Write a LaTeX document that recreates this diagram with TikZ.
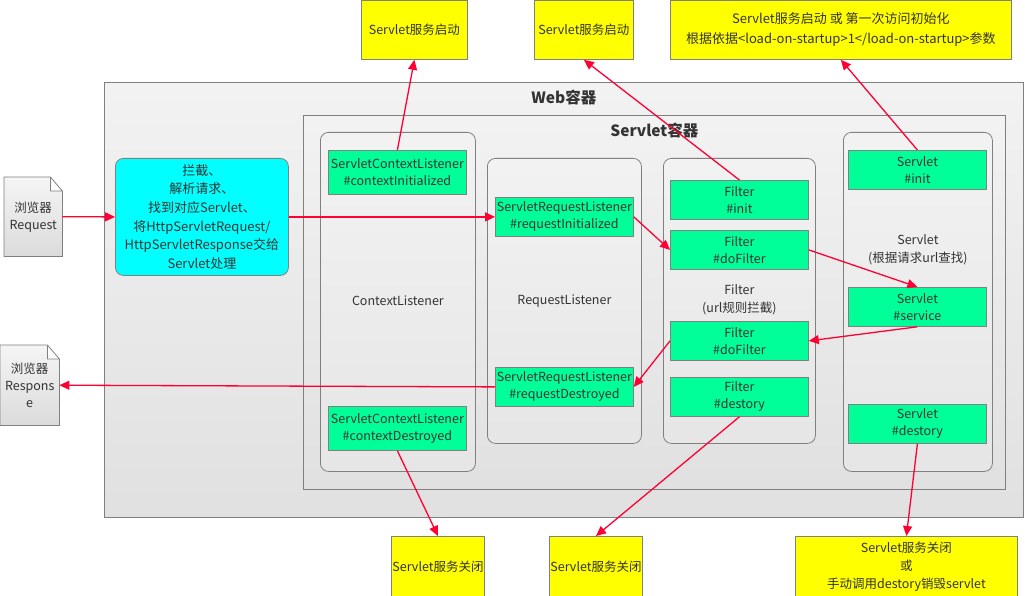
\documentclass[tikz,border=0pt]{standalone}
\usepackage{fontspec}
\setmainfont{Noto Sans CJK SC}
\usetikzlibrary{arrows.meta,positioning,backgrounds,calc}
\definecolor{SvGreen}{HTML}{00FF99}
\definecolor{SvYellow}{HTML}{FFFF00}
\definecolor{SvCyan}{HTML}{00FFFF}
\definecolor{SvRed}{HTML}{FF0033}
\definecolor{SvEdge}{HTML}{808080}
\definecolor{SvText}{HTML}{333333}

\begin{document}
\begin{tikzpicture}[x=1pt,y=-1pt,
    every node/.style={text=SvText,font=\fontsize{12.5}{17}\selectfont},
    panel/.style={draw=SvEdge,line width=0.8pt,top color=black!5,bottom color=black!12,anchor=north west},
    group/.style={panel,rounded corners=8pt,top color=black!5,bottom color=black!10},
    stage/.style={draw=SvEdge,fill=SvGreen,line width=0.8pt,minimum width=138pt,minimum height=39pt,
      inner sep=1pt,align=center,anchor=north west},
    note/.style={draw=SvEdge,fill=SvYellow,line width=0.8pt,inner sep=1pt,align=center,anchor=north west},
    doc/.style={minimum width=58pt,minimum height=80pt,inner sep=1pt,align=center,anchor=north west},
    flow/.style={draw=SvRed,line width=1.3pt,-{Triangle[length=10pt,width=9pt]}},
    title/.style={font=\fontsize{15.5}{17}\bfseries\selectfont}
  ]
  \useasboundingbox (0,0) rectangle (1025,596);

  % Containers
  \node[panel,minimum width=919pt,minimum height=435pt] (web) at (104,82) {};
  \node[title,below=4pt of web.north] {Web容器};
  \node[panel,minimum width=702pt,minimum height=374pt] (sc) at (303,115) {};
  \node[title,below=4pt of sc.north] {Servlet容器};

  % Groups
  \node[group,minimum width=155pt,minimum height=339pt] (gctx) at (320,132) {};
  \node at (gctx.center |- 0,301) {ContextListener};
  \node[group,minimum width=154pt,minimum height=285pt] (greq) at (487,158) {};
  \node at (greq.center |- 0,301) {RequestListener};
  \node[group,minimum width=152pt,minimum height=285pt] (gflt) at (663,158) {};
  \node[align=center,font=\fontsize{12.5}{18}\selectfont] at (gflt.center |- 0,300) {Filter\\(url规则拦截)};
  \node[group,minimum width=149pt,minimum height=339pt] (gsvl) at (843,132) {};
  \node[align=center,font=\fontsize{12.5}{18}\selectfont] at (gsvl.center |- 0,250) {Servlet\\(根据请求url查找)};

  % Stages
  \node[stage,minimum height=44pt] (ctxinit) at (328,150) {ServletContextListener\\\#contextInitialized};
  \node[stage,minimum height=44pt] (ctxdes) at (328,406) {ServletContextListener\\\#contextDestroyed};
  \node[stage] (reqinit) at (495,197) {ServletRequestListener\\\#requestInitialized};
  \node[stage] (reqdes) at (495,367) {ServletRequestListener\\\#requestDestroyed};
  \node[stage] (fltinit) at (670,180) {Filter\\\#init};
  \node[stage] (fltdo) at (670,230) {Filter\\\#doFilter};
  \node[stage] (fltback) at (670,321) {Filter\\\#doFilter};
  \node[stage] (fltdes) at (670,377) {Filter\\\#destory};
  \node[stage] (svlinit) at (848,150) {Servlet\\\#init};
  \node[stage] (svlsrv) at (848,287) {Servlet\\\#service};
  \node[stage] (svldes) at (848,404) {Servlet\\\#destory};

  % Dispatcher
  \node[draw=SvEdge,fill=SvCyan,line width=0.8pt,rounded corners=8pt,minimum width=173pt,minimum height=117pt,
    align=center,anchor=north west,font=\fontsize{13}{18.6}\selectfont] (disp) at (115,158)
    {拦截、\\解析请求、\\找到对应Servlet、\\将HttpServletRequest/\\HttpServletResponse交给\\Servlet处理};

  % Browser
  \node[doc,minimum height=79pt] (req) at (4,177) {浏览器\\Request};
  \node[doc,minimum width=59pt] (resp) at (0,345) {浏览器\\Respons\\e};
  \begin{scope}[on background layer]
    \foreach \d in {req,resp}
      \draw[draw=SvEdge,line width=0.8pt,top color=black!4,bottom color=black!14]
        (\d.north west) -- ([xshift=-12pt]\d.north east) -- ([yshift=-14pt]\d.north east)
        -- (\d.south east) -- (\d.south west) -- cycle
        ([xshift=-12pt]\d.north east) -- ([xshift=-12pt,yshift=-14pt]\d.north east) -- ([yshift=-14pt]\d.north east);
  \end{scope}

  % Notes
  \node[note,minimum width=106pt,minimum height=59pt] (up1) at (361,0) {Servlet服务启动};
  \node[note,minimum width=99pt,minimum height=59pt] (up2) at (534,0) {Servlet服务启动};
  \node[note,minimum width=341pt,minimum height=59pt,font=\fontsize{13}{20}\selectfont] (up3) at (670,0)
    {Servlet服务启动 或 第一次访问初始化\\根据依据<load-on-startup>1</load-on-startup>参数};
  \node[note,minimum width=83pt,minimum height=60pt] (dn1) at (391,536) {Servlet服务关闭};
  \node[note,minimum width=91pt,minimum height=60pt] (dn2) at (549,536) {Servlet服务关闭};
  \node[note,minimum width=222pt,minimum height=60pt,font=\fontsize{12.5}{18}\selectfont] (dn3) at (795,536)
    {Servlet服务关闭\\或\\手动调用destory销毁servlet};

  % Request flow
  \draw[flow] (req.east) -- (disp.west);
  \draw[flow] (disp.east) -- (reqinit.west);
  \draw[flow] (reqinit.east) -- (fltdo.west);
  \draw[flow] (fltdo.east) -- (svlsrv.north);
  \draw[flow] (svlsrv.south) -- (fltback.east);
  \draw[flow] (fltback.west) -- (reqdes.east);
  \draw[flow] (reqdes.west) -- (resp.east);

  % Lifecycle
  \draw[flow] (ctxinit.north) -- (up1.south);
  \draw[flow] (fltinit.north) -- (up2.south);
  \draw[flow] (svlinit.north) -- (up3.south);
  \draw[flow] (ctxdes.south) -- (dn1.north);
  \draw[flow] (fltdes.south) -- (dn2.north);
  \draw[flow] (svldes.south) -- (dn3.north);
\end{tikzpicture}
\end{document}
